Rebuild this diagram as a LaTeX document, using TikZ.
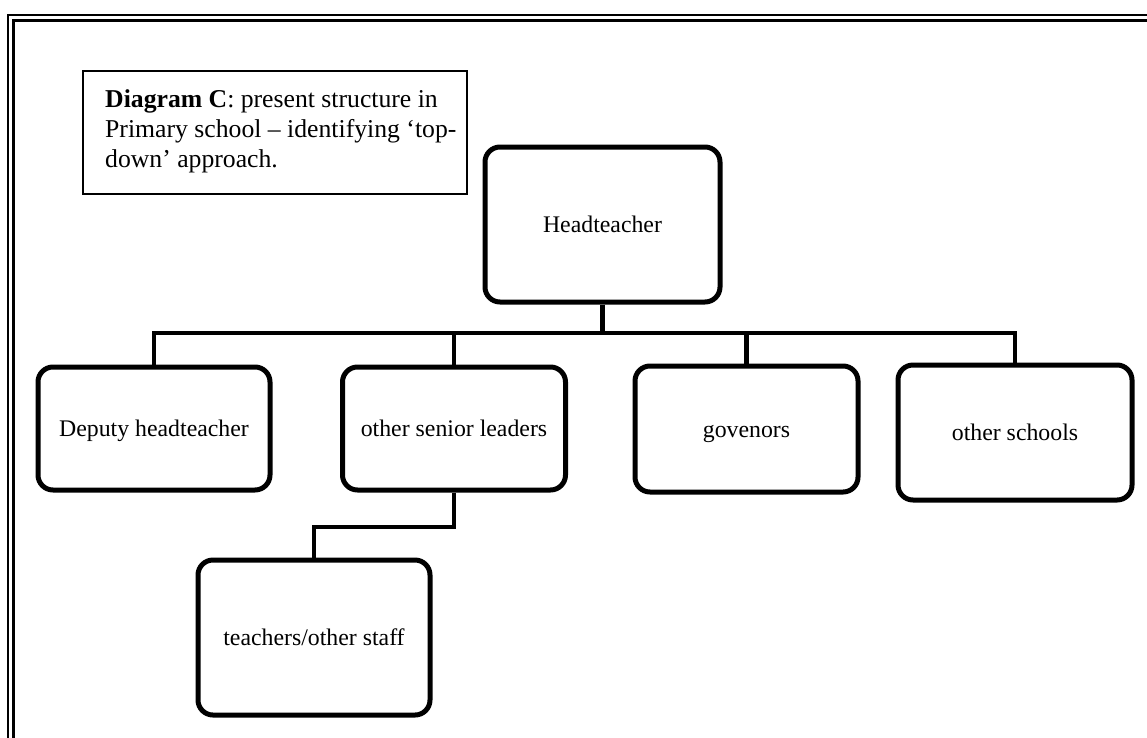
\documentclass[tikz,border=0pt]{standalone}
\usepackage{fontspec}
\setmainfont{Liberation Serif}
\begin{document}
\begin{tikzpicture}[x=1pt,y=-1pt,
  orgbox/.style={draw, line width=5pt, rounded corners=15pt, align=center, inner sep=0pt,
    text height=21.6pt, text depth=5pt,
    font=\fontsize{23.8}{28}\selectfont},
  link/.style={line width=4.2pt},
  captext/.style={anchor=base west, inner sep=0pt, font=\fontsize{25.7}{30}\selectfont},
  frameline/.style={line width=2.6pt}]
\useasboundingbox (0,0) rectangle (1147,737);
\clip (0,0) rectangle (1147,737);
% page frame (double line)
\draw[frameline] (8,760) -- (8,15) -- (1170,15);
\draw[line width=3pt] (13.5,760) -- (13.5,20.5) -- (1170,20.5);
% caption
\node[draw, line width=2.6pt, minimum width=384pt, minimum height=123pt, inner sep=0pt] (capbox) at (275,132.5) {};
\node[captext] (cap1) at (105,107) {\textbf{Diagram C}: present structure in};
\node[captext] (cap2) at (105,137) {Primary school – identifying ‘top-};
\node[captext] (cap3) at (105,167) {down’ approach.};
% boxes
\node[orgbox, minimum width=235pt, minimum height=155pt] (head) at (602.5,224.5) {Headteacher};
\node[orgbox, minimum width=232pt, minimum height=123pt] (dep) at (154,428.5) {Deputy headteacher};
\node[orgbox, minimum width=223pt, minimum height=123pt] (sen) at (454,428.5) {other senior leaders};
\node[orgbox, minimum width=223pt, minimum height=126pt] (gov) at (746.5,429) {govenors};
\node[orgbox, minimum width=234pt, minimum height=135pt] (sch) at (1015,432.5) {other schools};
\node[orgbox, minimum width=232pt, minimum height=155pt] (tea) at (314,637.5) {teachers/other staff};
% connectors
\coordinate (bar) at (0,333);
\coordinate (mid) at (0,527);
\draw[link] (head.south) -- (head.south |- bar);
\draw[link] (dep.north) -- (dep.north |- bar) -- (sch.north |- bar) -- (sch.north);
\draw[link] (sen.north) -- (sen.north |- bar);
\draw[link] (gov.north) -- (gov.north |- bar);
\draw[link] (sen.south) -- (sen.south |- mid) -- (tea.north |- mid) -- (tea.north);
\end{tikzpicture}
\end{document}
